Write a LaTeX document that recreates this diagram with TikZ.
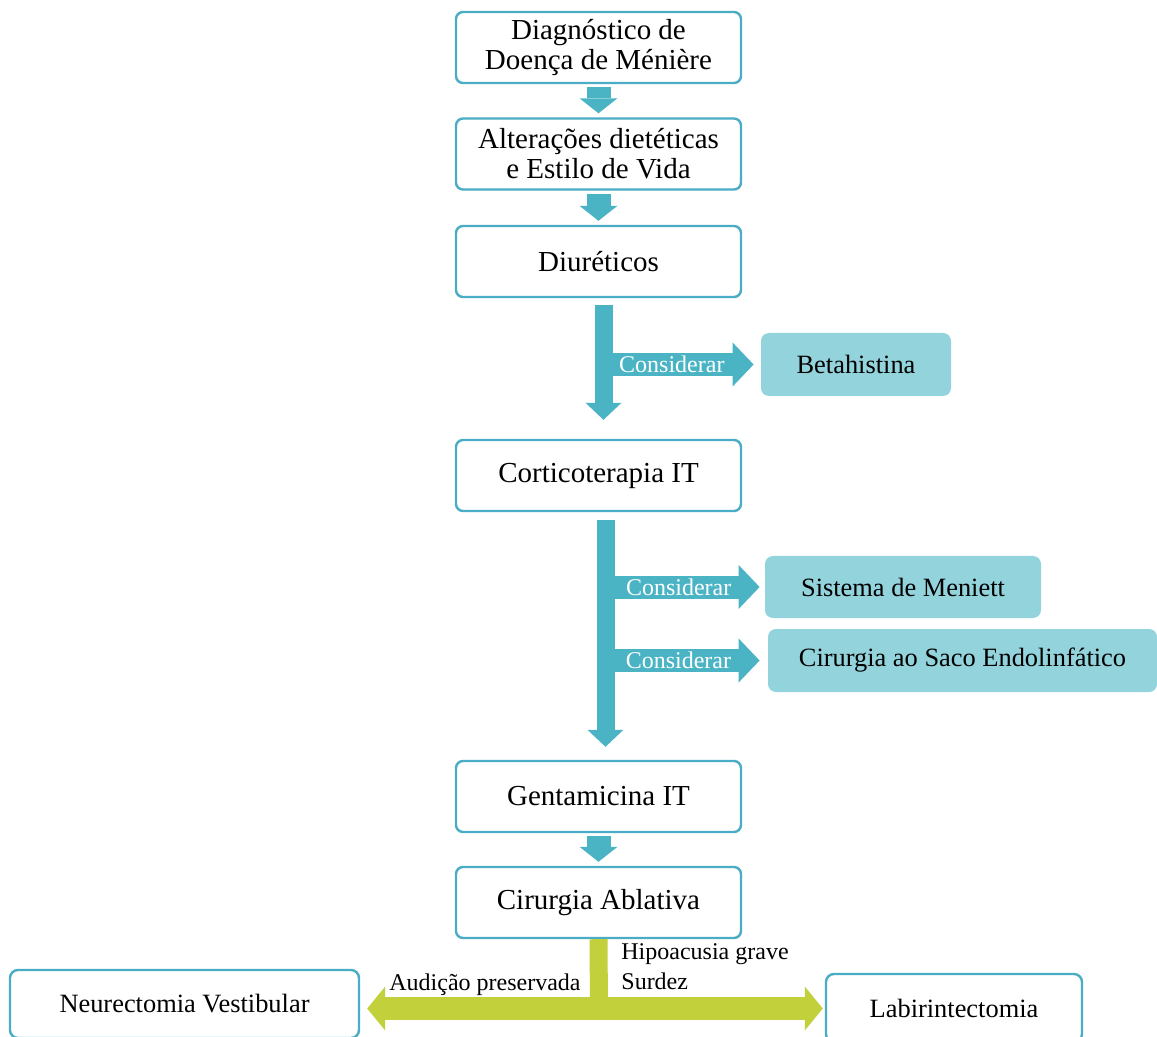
\documentclass[tikz,border=0pt]{standalone}
\usepackage{fontspec}
\setmainfont{Liberation Serif}
\usetikzlibrary{arrows.meta,calc,positioning}
\definecolor{boxline}{HTML}{4BACC6}
\definecolor{flowteal}{HTML}{4AB4C5}
\definecolor{optfill}{HTML}{93D3DC}
\definecolor{flowlime}{HTML}{C2D13B}

\tikzset{
  stepbox/.style={draw=boxline, line width=1.2pt, rounded corners=3.5pt, fill=white,
    minimum width=142.5pt, minimum height=35.5pt, inner sep=0pt, align=center,
    font=\fontsize{14.5}{15}\selectfont},
  optbox/.style={fill=optfill, rounded corners=4pt, minimum height=31.5pt, inner sep=0pt,
    font=\fontsize{13.2}{15}\selectfont},
  endbox/.style={draw=boxline, line width=1.2pt, rounded corners=4pt, minimum height=34pt,
    inner sep=0pt, font=\fontsize{13.2}{15}\selectfont},
  smallarrow/.style={draw=flowteal, line width=12pt,
    -{Triangle[width=19pt,length=7.5pt,line width=0pt]}},
  bigarrow/.style={draw=flowteal, line width=9pt,
    -{Triangle[width=18pt,length=8.5pt,line width=0pt]}},
  sidearrow/.style={draw=flowteal, line width=11.5pt,
    -{Triangle[width=22pt,length=10.5pt,line width=0pt]}},
  limeshaft/.style={draw=flowlime, line width=9pt},
  limearrow/.style={draw=flowlime, line width=11.5pt,
    -{Triangle[width=22pt,length=9pt,line width=0pt]}},
  considerlbl/.style={text=white, font=\fontsize{12}{14}\selectfont, inner sep=0pt},
  branchlbl/.style={font=\fontsize{12}{15}\selectfont, inner sep=0pt, align=left}
}

\begin{document}
\begin{tikzpicture}[x=0.5pt,y=-0.5pt]
\useasboundingbox (0,0) rectangle (1157,1037);
%main column
\node[stepbox] (diag) at (598.5,47.5) {Diagnóstico de\\Doença de Ménière};
\node[stepbox] (dieta) at (598.5,154) {Alterações dietéticas\\e Estilo de Vida};
\node[stepbox] (diur) at (598.5,261.5) {Diuréticos};
\node[stepbox] (cort) at (598.5,475.5) {Corticoterapia IT};
\node[stepbox] (genta) at (598.5,796.5) {Gentamicina IT};
\node[stepbox] (abl) at (598.5,902.5) {Cirurgia Ablativa};

%options
\node[optbox, minimum width=95pt] (beta) at (856,364.5) {Betahistina};
\node[optbox, minimum width=138pt, minimum height=31pt] (meniett) at (903,587) {Sistema de Meniett};
\node[optbox, minimum width=194.5pt] (saco) at (962.5,660.5) {Cirurgia ao Saco Endolinfático};

%final choices
\node[endbox, minimum width=174.5pt] (neuro) at (184.5,1004) {Neurectomia Vestibular};
\node[endbox, minimum width=128pt] (labi) at (954,1008) {Labirintectomia};

%small arrows
\draw[smallarrow, shorten <=1.5pt, shorten >=2pt] (diag.south) -- (dieta.north);
\draw[smallarrow, shorten <=1.5pt, shorten >=2pt] (dieta.south) -- (diur.north);
\draw[smallarrow, shorten <=1.5pt, shorten >=2pt] (genta.south) -- (abl.north);

%first long arrow
\coordinate (down1) at ($(diur.south)+(5,0)$);
\coordinate (end1) at ($(cort.north)+(5,0)$);
\draw[bigarrow, shorten <=3.5pt, shorten >=9.5pt] (down1) -- (end1);
\draw[sidearrow, shorten >=3.5pt] (down1 |- beta.west) -- node[considerlbl, pos=.435] {Considerar} (beta.west);

%second long arrow
\coordinate (down2) at ($(cort.south)+(7,0)$);
\coordinate (end2) at ($(genta.north)+(7,0)$);
\draw[bigarrow, shorten <=4pt, shorten >=6.5pt] (down2) -- (end2);
\draw[sidearrow, shorten >=2.5pt] (down2 |- meniett.west) -- node[considerlbl, pos=.46] {Considerar} (meniett.west);
\draw[sidearrow, shorten >=4pt] (down2 |- saco.west) -- node[considerlbl, pos=.45] {Considerar} (saco.west);

%split after ablative surgery
\coordinate (fork) at (599,1008.5);
\draw[limeshaft] (abl.south) -- (fork);
\draw[limearrow, shorten >=3.5pt] (fork) -- (neuro.east |- fork);
\draw[limearrow, shorten >=1pt] (fork) -- (labi.west |- fork);
\node[branchlbl, anchor=east] (ouve) at (581,985) {Audição preservada};
\node[branchlbl, anchor=west] (surdo) at (621,967) {Hipoacusia grave\\Surdez};
\end{tikzpicture}
\end{document}
